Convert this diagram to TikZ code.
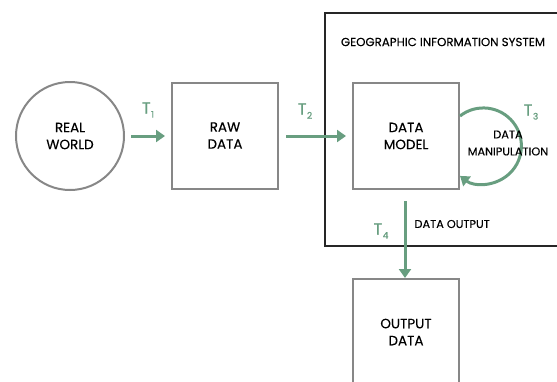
\documentclass[tikz,border=0pt]{standalone}
\usepackage{fontspec}
\setmainfont{Poppins}[FakeBold=0.25]
\usetikzlibrary{arrows.meta}
\definecolor{gr}{RGB}{104,158,128}
\definecolor{bx}{RGB}{135,135,135}
\newcommand{\tsub}[1]{T\kern0.5pt\raisebox{-4pt}{\fontsize{9}{9}\selectfont #1}}
\tikzset{
  graybox/.style={draw=bx, line width=2pt, minimum width=106pt, minimum height=106pt, inner sep=0pt, align=center, font=\fontsize{13.5}{17}\selectfont},
  flow/.style={draw=gr, line width=3pt, -{Triangle[length=9pt,width=12pt]}},
  tlab/.style={text=gr, inner sep=0pt, font=\fontsize{16}{16}\selectfont\addfontfeatures{FakeBold=1.2}},
  small/.style={font=\fontsize{11.3}{17}\selectfont, align=center}
}
\begin{document}
\begin{tikzpicture}[x=1pt,y=-1pt]
\useasboundingbox (0,0) rectangle (557,381);
\clip (0,0) rectangle (557,381);
\node[circle, draw=bx, line width=2pt, minimum size=108pt, inner sep=0pt, align=center, font=\fontsize{13.5}{17}\selectfont] (rw) at (70,136) {REAL\\WORLD};
\node[graybox] (raw) at (225,135.5) {RAW\\DATA};
\draw[draw=black!85, line width=2pt] (325,13) rectangle (575,246);
\node[font=\fontsize{11.8}{12}\selectfont] (gis) at (443,42) {GEOGRAPHIC INFORMATION SYSTEM};
\node[graybox] (dm) at (406,136) {DATA\\MODEL};
\node[graybox, anchor=north] (out) at (406,278) {OUTPUT\\DATA};
\coordinate (a1s) at (131,136);
\coordinate (a1e) at (165,136);
\draw[flow] (a1s) -- (a1e);
\node[tlab] (t1) at (148,110) {\tsub{1}};
\coordinate (a2s) at (286,136);
\coordinate (a2e) at (346,136);
\draw[flow] (a2s) -- (a2e);
\node[tlab] (t2) at (305,111) {\tsub{2}};
\draw[flow] (460,116) arc[start angle=-128, end angle=128, radius=38];
\node[tlab] (t3) at (531,112) {\tsub{3}};
\node[small] (dmn) at (508,143) {DATA\\MANIPULATION};
\coordinate (a4s) at (405,201);
\draw[flow] (a4s) -- (out.north -| a4s);
\node[tlab] (t4) at (381,231) {\tsub{4}};
\node[small, anchor=west] (do) at (411,224) {DATA OUTPUT};
\end{tikzpicture}
\end{document}
